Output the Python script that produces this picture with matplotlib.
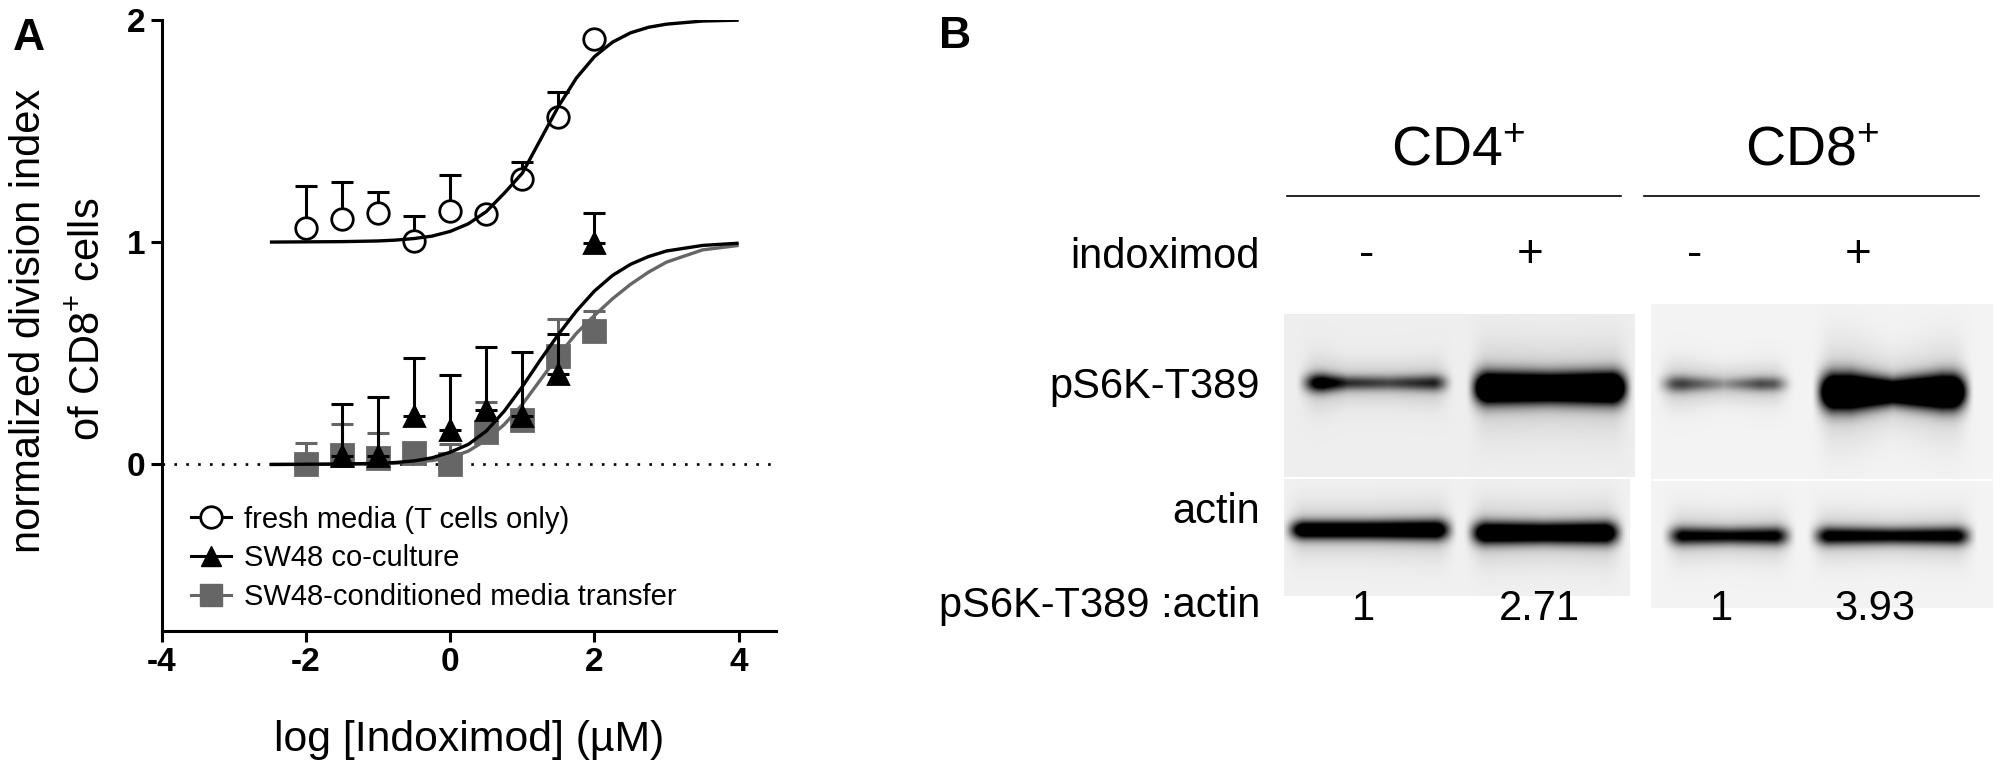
import numpy as np
import matplotlib
matplotlib.use("Agg")
import matplotlib.pyplot as plt
from matplotlib.lines import Line2D

plt.rcParams['font.family'] = ['Liberation Sans', 'DejaVu Sans']
plt.rcParams['mathtext.default'] = 'regular'
plt.rcParams['axes.unicode_minus'] = False

# ---------- panel A data ----------
doses = [-2, -1.5, -1, -0.5, 0, 0.5, 1, 1.5, 2]
fresh_mean = [1.062, 1.104, 1.129, 1.007, 1.14, 1.126, 1.283, 1.564, 1.915]
fresh_top = [1.252, 1.268, 1.223, 1.117, 1.30, 1.126, 1.358, 1.676, 1.915]
cocult_mean = [np.nan, 0.04, 0.04, 0.216, 0.153, 0.243, 0.22, 0.408, 0.994]
cocult_top = [np.nan, 0.271, 0.303, 0.477, 0.403, 0.526, 0.507, 0.588, 1.133]
transfer_mean = [0.002, 0.042, 0.03, 0.05, 0.0, 0.147, 0.202, 0.487, 0.6]
transfer_top = [0.096, 0.18, 0.142, 0.05, 0.09, 0.283, 0.202, 0.653, 0.688]

curve_x = [-2.5, -2, -1.5, -1, -0.75, -0.5, -0.25, 0, 0.25, 0.5, 0.75, 1, 1.25,
           1.5, 1.75, 2, 2.25, 2.5, 2.75, 3, 3.5, 4]
fresh_curve = [1.0, 1.001, 1.002, 1.005, 1.009, 1.016, 1.027, 1.048, 1.082, 1.137,
               1.22, 1.31, 1.46, 1.61, 1.738, 1.834, 1.899, 1.941, 1.966, 1.98, 1.994, 1.998]
cocult_curve = [0.0, 0.001, 0.002, 0.005, 0.009, 0.016, 0.03, 0.055, 0.09, 0.15,
                0.24, 0.35, 0.47, 0.585, 0.69, 0.78, 0.85, 0.90, 0.935, 0.96, 0.985, 0.995]
transfer_curve = [0.0, 0.0, 0.001, 0.003, 0.006, 0.01, 0.018, 0.03, 0.06, 0.11,
                  0.18, 0.27, 0.38, 0.49, 0.59, 0.67, 0.745, 0.81, 0.865, 0.91, 0.965, 0.985]

x_ticks = [-4, -2, 0, 2, 4]
y_ticks = [0, 1, 2]
legend_labels = ['fresh media (T cells only)', 'SW48 co-culture',
                 'SW48-conditioned media transfer']

# ---------- panel B labels ----------
lane_signs = ['-', '+', '-', '+']
ratios = ['1', '2.71', '1', '3.93']

W, H = 2000, 771
fig = plt.figure(figsize=(W / 100, H / 100), dpi=100, facecolor='white')

GREY = '#666666'
ax = fig.add_axes([161.7 / W, 1 - 630.8 / H, (775.5 - 161.7) / W, (630.8 - 19.7) / H])
ax.set_xlim(-4, 4.51)
ax.set_ylim(-0.748, 2)
ax.patch.set_alpha(0)
for s in ['top', 'right']:
    ax.spines[s].set_visible(False)
for s in ['left', 'bottom']:
    ax.spines[s].set_linewidth(2.2)
ax.set_xticks(x_ticks)
ax.set_yticks(y_ticks)
ax.tick_params(length=8, width=2.2, labelsize=24, pad=4)
for t in ax.get_xticklabels() + ax.get_yticklabels():
    t.set_fontweight('bold')
ax.axhline(0, color='black', lw=1.9, ls=(0, (1, 3.5)), zorder=1)


def series(mean, top, curve, color, marker, ms, mfc, z):
    up = np.array(top) - np.array(mean)
    ax.errorbar(doses, mean, yerr=[np.zeros_like(up), up], fmt='none', ecolor=color,
                elinewidth=2.2, capsize=8, capthick=2.2, zorder=z)
    ax.plot(doses, mean, ls='none', marker=marker, ms=ms, mfc=mfc, mec=color, mew=2.0, zorder=z + 0.1)
    ax.plot(curve_x, curve, color=color, lw=2.4, zorder=z + 0.2, solid_capstyle='butt')


series(transfer_mean, transfer_top, transfer_curve, GREY, 's', 15.5, GREY, 3)
series(cocult_mean, cocult_top, cocult_curve, 'black', '^', 15, 'black', 4)
series(fresh_mean, fresh_top, fresh_curve, 'black', 'o', 15.5, 'white', 5)

handles = [
    Line2D([], [], color='black', lw=2.2, marker='o', ms=15.5, mfc='white', mec='black', mew=2.0),
    Line2D([], [], color='black', lw=2.2, marker='^', ms=15, mfc='black', mec='black'),
    Line2D([], [], color=GREY, lw=2.2, marker='s', ms=15.5, mfc=GREY, mec=GREY),
]
ax.legend(handles, legend_labels, loc='upper left', bbox_to_anchor=(0.047, 0.205), frameon=False,
          fontsize=21, handlelength=1.4, handletextpad=0.42, labelspacing=0.37, borderpad=0,
          borderaxespad=0)

ov = fig.add_axes([0, 0, 1, 1], zorder=-1)
ov.set_xlim(0, W)
ov.set_ylim(H, 0)
ov.axis('off')
top = fig.add_axes([0, 0, 1, 1], zorder=5)
top.set_xlim(0, W)
top.set_ylim(H, 0)
top.axis('off')

def T(x, y, s, size=30, ha='center', va='center', **k):
    top.text(x, y, s, fontsize=size, ha=ha, va=va, color='black', **k)

T(29, 38, 'A', size=32, fontweight='bold')
T(955, 36, 'B', size=32, fontweight='bold')
T(29, 321, 'normalized division index', rotation=90)
T(88, 319, 'of CD8$^{+}$ cells', rotation=90)
T(469, 740, 'log [Indoximod] (µM)', size=30.8)

T(1458, 152, 'CD4$^{+}$', size=40)
T(1812, 152, 'CD8$^{+}$', size=40)
top.plot([1287, 1621], [196, 196], color='black', lw=1.2)
top.plot([1644, 1979], [196, 196], color='black', lw=1.2)

T(1260, 257, 'indoximod', ha='right')
for x, s in zip([1367, 1530, 1695, 1858], lane_signs):
    T(x, 255, s, size=33)
T(1260, 387, 'pS6K-T389', ha='right')
T(1260, 512, 'actin', ha='right')
T(1260, 606, 'pS6K-T389 :actin', ha='right')
for x, s in zip([1363, 1539, 1721, 1875], ratios):
    T(x, 609, s)


def blot(x0, x1, y0, y1, bg, bands):
    xs = np.arange(x0, x1) + 0.5
    ys = np.arange(y0, y1) + 0.5
    X, Y = np.meshgrid(xs, ys)
    img = np.full(X.shape, float(bg))
    for xa, xb, yc, pos, half, den in bands:
        t = (X - xa) / (xb - xa)
        edge = np.clip((X - xa + 12) / 24, 0, 1) * np.clip((xb - X + 12) / 24, 0, 1)
        edge = edge * edge * (3 - 2 * edge)
        h = np.interp(t, pos, half)
        d = np.interp(t, pos, den)
        img -= d * edge * np.exp(-np.abs((Y - yc) / h) ** 2)
        img -= 0.16 * edge * np.exp(-((Y - yc) / (h * 2.8)) ** 2)
    ov.imshow(np.clip(img, 0, 1), extent=(x0, x1, y1, y0), cmap='gray', vmin=0, vmax=1,
              interpolation='bilinear', aspect='auto')


blot(1284, 1635, 314, 477, 0.93, [
    (1307, 1444, 383, [0, .12, .3, .6, 1], [9, 9, 7, 7, 8], [.9, 1.0, .6, .5, .7]),
    (1477, 1623, 388, [0, .5, 1], [15, 14, 15], [1.8, 1.7, 1.9]),
])
blot(1651, 1993, 304, 479, 0.95, [
    (1665, 1784, 384, [0, .15, .5, .8, 1], [8, 8, 6, 7, 7], [.45, .55, .2, .5, .42]),
    (1823, 1963, 392, [0, .2, .5, .85, 1], [17, 17, 12, 16, 16], [1.9, 1.9, 1.6, 2.0, 1.9]),
])
blot(1284, 1630, 479, 596, 0.94, [
    (1293, 1447, 530, [0, .5, 1], [9, 9, 10], [1.2, 1.2, 1.2]),
    (1475, 1616, 533, [0, .5, 1], [11, 10, 11], [1.3, 1.3, 1.3]),
])
blot(1651, 1993, 481, 608, 0.95, [
    (1672, 1786, 536, [0, .5, 1], [9, 8, 9], [.9, .85, .9]),
    (1818, 1967, 536, [0, .5, 1], [9, 8, 9], [.95, .9, .95]),
])
ov.set_xlim(0, W)
ov.set_ylim(H, 0)

fig.savefig('out.png', dpi=100, facecolor='white')
